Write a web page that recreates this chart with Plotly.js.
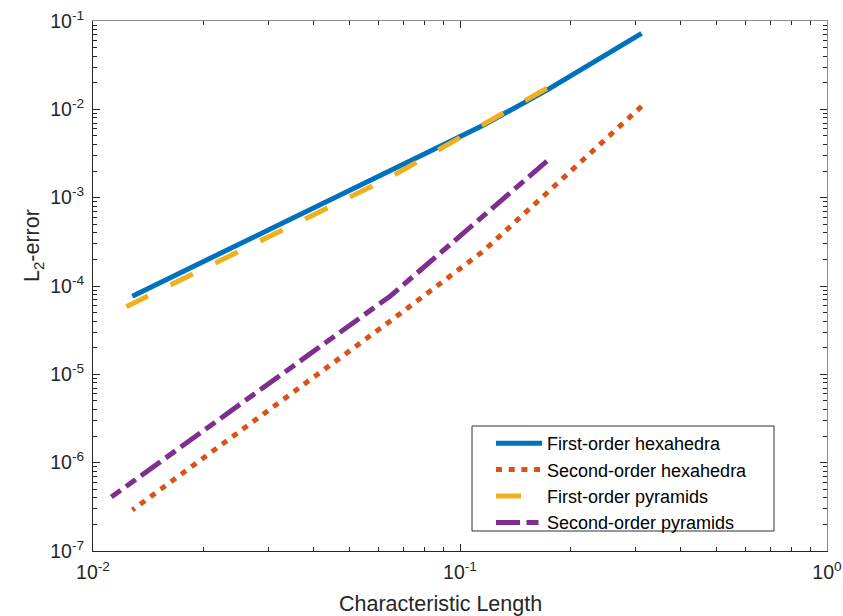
<!DOCTYPE html>
<html><head><meta charset="utf-8">
<script src="https://cdn.plot.ly/plotly-3.0.1.min.js"></script>
<style>html,body{margin:0;padding:0;background:#fff}#chart{width:843px;height:616px}</style>
</head><body><div id="chart"></div>
<script>
// ---- data ----
const hexLength = [0.3125, 0.1725, 0.1157, 0.0645, 0.0128];
const firstOrderHexError = [0.0726, 0.01652, 0.00661, 0.00204, 7.67e-5];
const secondOrderHexError = [0.01083, 1.14e-3, 2.48e-4, 4.0e-5, 2.91e-7];
const firstPyrLength = [0.1725, 0.0645, 0.01233];
const firstOrderPyrError = [0.01732, 1.70e-3, 5.83e-5];
const secondPyrLength = [0.1725, 0.0645, 0.01122];
const secondOrderPyrError = [2.59e-3, 7.67e-5, 4.08e-7];
const seriesNames = ['First-order hexahedra', 'Second-order hexahedra', 'First-order pyramids', 'Second-order pyramids'];
const xTickVals = [0.01, 0.1, 1];
const xTickText = ['10<sup>-2</sup>', '10<sup>-1</sup>', '10<sup>0</sup>'];
const yTickVals = [1e-7, 1e-6, 1e-5, 1e-4, 1e-3, 1e-2, 1e-1];
const yTickText = ['10<sup>-7</sup>', '10<sup>-6</sup>', '10<sup>-5</sup>', '10<sup>-4</sup>', '10<sup>-3</sup>', '10<sup>-2</sup>', '10<sup>-1</sup>'];
const xTitle = 'Characteristic Length';
const yTitle = 'L<sub>2</sub>-error';

// ---- styling ----
const FONT = 'Liberation Sans, Arial, Helvetica, sans-serif';
const AX = '#262626';
const colors = ['#0072BD', '#D95319', '#EDB120', '#7E2F8E'];
const LW = 5;

function minorVals(lo, hi) {
  const v = [];
  for (let e = lo; e < hi; e++) for (let m = 2; m <= 9; m++) v.push(m * Math.pow(10, e));
  return v;
}
const xMinor = minorVals(-2, 0);
const yMinor = minorVals(-7, -1);

const traces = [
  {x: hexLength, y: firstOrderHexError, name: seriesNames[0], mode: 'lines',
   line: {color: colors[0], width: LW}},
  {x: hexLength, y: secondOrderHexError, name: seriesNames[1], mode: 'lines',
   line: {color: colors[1], width: LW, dash: '6px,6.7px'}},
  {x: firstPyrLength, y: firstOrderPyrError, name: seriesNames[2], mode: 'lines',
   line: {color: colors[2], width: LW, dash: '25px,25px'}},
  {x: secondPyrLength, y: secondOrderPyrError, name: seriesNames[3], mode: 'lines',
   line: {color: colors[3], width: LW, dash: '24px,6.5px,12px,6.5px'}}
];

const baseAxis = {
  type: 'log', showgrid: false, zeroline: false, ticks: 'inside', ticklen: 7,
  tickwidth: 1, tickcolor: AX, showline: true, linewidth: 1,
  tickfont: {family: FONT, size: 19.5, color: AX},
  fixedrange: true
};

const W = 734, H = 530, L = 93, T = 21;
const px = v => (v - L) / W;
const py = v => (T + H - v) / H;

const layout = {
  width: 843, height: 616,
  margin: {l: L, r: 843 - L - W, t: T, b: 616 - T - H, pad: 0},
  paper_bgcolor: '#ffffff', plot_bgcolor: '#ffffff',
  font: {family: FONT, color: AX},
  showlegend: true,
  xaxis: Object.assign({}, baseAxis, {
    range: [-2, 0], tickmode: 'array', tickvals: xTickVals, ticktext: xTickText,
    linecolor: AX, ticklabelstandoff: 4,
    minor: {tickmode: 'array', tickvals: xMinor, ticks: 'inside', ticklen: 4, tickcolor: AX, tickwidth: 1, showgrid: false}
  }),
  yaxis: Object.assign({}, baseAxis, {
    range: [-7, -1], tickmode: 'array', tickvals: yTickVals, ticktext: yTickText,
    linecolor: AX, ticklabelstandoff: 4,
    minor: {tickmode: 'array', tickvals: yMinor, ticks: 'inside', ticklen: 4, tickcolor: AX, tickwidth: 1, showgrid: false}
  }),
  xaxis2: Object.assign({}, baseAxis, {
    range: [-2, 0], overlaying: 'x', side: 'top', anchor: 'y', matches: 'x',
    tickmode: 'array', tickvals: xTickVals, showticklabels: false, linecolor: '#8c8c8c',
    minor: {tickmode: 'array', tickvals: xMinor, ticks: 'inside', ticklen: 4, tickcolor: AX, tickwidth: 1, showgrid: false}
  }),
  yaxis2: Object.assign({}, baseAxis, {
    range: [-7, -1], overlaying: 'y', side: 'right', anchor: 'x', matches: 'y',
    tickmode: 'array', tickvals: yTickVals, showticklabels: false, linecolor: '#8c8c8c',
    minor: {tickmode: 'array', tickvals: yMinor, ticks: 'inside', ticklen: 4, tickcolor: AX, tickwidth: 1, showgrid: false}
  }),
  legend: {
    x: px(491), y: py(425), xanchor: 'left', yanchor: 'top',
    bgcolor: 'rgba(0,0,0,0)', borderwidth: 0, itemwidth: 46,
    font: {family: FONT, size: 18, color: '#000'},
    tracegroupgap: 0
  },
  shapes: [
    {type: 'rect', xref: 'paper', yref: 'paper', layer: 'below',
     x0: px(472), x1: px(774), y0: py(531), y1: py(426),
     line: {color: '#303030', width: 1}, fillcolor: '#ffffff'}
  ],
  annotations: [
    {text: xTitle, xref: 'paper', yref: 'paper', x: px(440), y: py(604),
     xanchor: 'center', yanchor: 'middle', showarrow: false,
     font: {family: FONT, size: 21.5, color: AX}},
    {text: yTitle, xref: 'paper', yref: 'paper', x: px(33), y: py(246),
     xanchor: 'center', yanchor: 'middle', showarrow: false, textangle: -90,
     font: {family: FONT, size: 21.5, color: AX}}
  ]
};

// invisible helper trace so the mirrored (top/right) axes are drawn
traces.push({x: [0.5], y: [1e-4], xaxis: 'x2', yaxis: 'y2', mode: 'markers',
  marker: {opacity: 0}, showlegend: false, hoverinfo: 'skip'});

Plotly.newPlot('chart', traces, layout, {displayModeBar: false, staticPlot: true});
</script>
</body></html>
